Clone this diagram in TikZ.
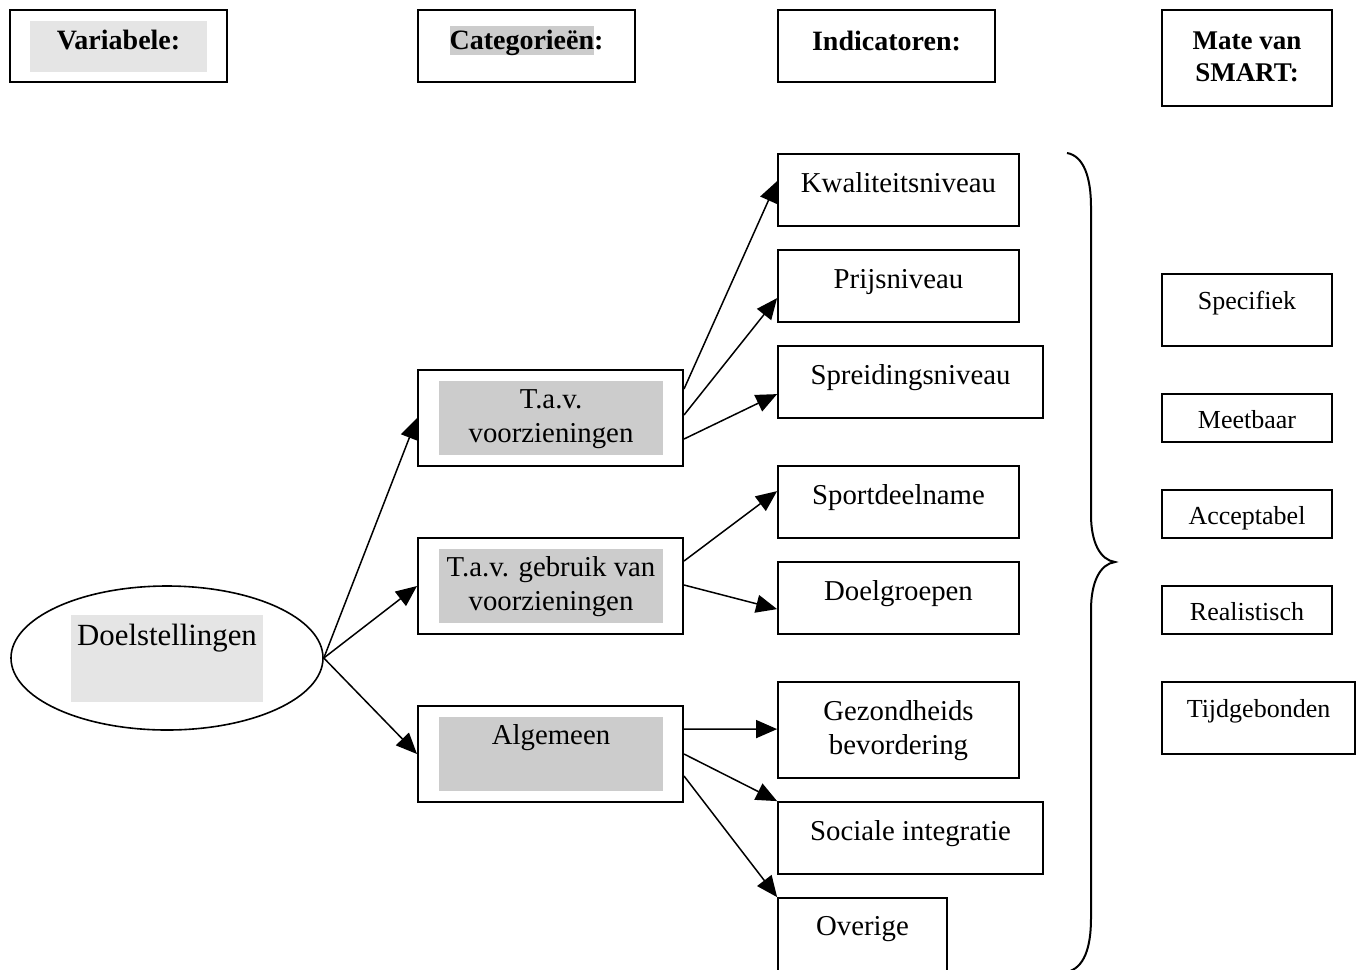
\documentclass[tikz,border=0pt]{standalone}
\usepackage{fontspec}
\setmainfont{Liberation Serif}
\usetikzlibrary{arrows.meta,shapes.geometric,fit,calc}

% grey highlight behind a word, as a text marker would leave it
\newcommand\markword[1]{{\setlength\fboxsep{0pt}\colorbox{black!20}{\rule[-3pt]{0pt}{14.5pt}#1}}}

\begin{document}
\begin{tikzpicture}[x=0.5pt,y=-0.5pt,
  hdr/.style={draw, line width=1.2pt, inner sep=0pt},
  catbox/.style={draw, line width=1pt, inner sep=0pt},
  indbox/.style={draw, line width=0.9pt, inner sep=0pt},
  smartbox/.style={draw, line width=0.9pt, inner sep=0pt},
  hdrtxt/.style={anchor=base, inner sep=0pt, align=center, font=\fontsize{14}{16}\selectfont\bfseries},
  txt/.style={anchor=base, inner sep=0pt, align=center, font=\fontsize{14.4}{17}\selectfont},
  smtxt/.style={anchor=base, inner sep=0pt, font=\fontsize{13}{16}\selectfont},
  arr/.style={-{Triangle[length=10.5pt,width=9pt]}, line width=0.75pt},
]
\path[use as bounding box] (0,0) rectangle (1363,969);
\clip (0,0) rectangle (1363,969);

% ---- column headers ----
\node[hdr, fit={(10,10) (227,82)}] (hvar) {};
\fill[black!10] (30,21) rectangle (207,72);
\node[hdrtxt] (hvar-t) at (118.5,49) {Variabele:};

\node[hdr, fit={(418,10) (635,82)}] (hcat) {};
\node[hdrtxt] (hcat-t) at (526.5,49) {\markword{Categorieën}:};

\node[hdr, fit={(778,10) (995,82)}] (hind) {};
\node[hdrtxt] (hind-t) at (886.5,50) {Indicatoren:};

% multi-line texts are placed by the baseline of their last line
\node[hdr, fit={(1162,10) (1332,106)}] (hsm) {};
\node[hdrtxt, font=\fontsize{13.5}{16}\selectfont\bfseries] (hsm-t) at (1247,81) {Mate van\\SMART:};

% ---- variable ----
\node[ellipse, draw, line width=0.8pt, minimum width=156pt, minimum height=72pt, inner sep=0pt] (doel) at (167,658) {};
\fill[black!10] (71,615) rectangle (263,702);
\node[txt, font=\fontsize{15.4}{18}\selectfont] (doel-t) at (167,645) {Doelstellingen};

% ---- categories ----
\node[catbox, fit={(418,370) (683,466)}] (c1) {};
\fill[black!20] (439,381) rectangle (663,455);
\node[txt] (c1-t) at (551,442) {T.a.v.\\voorzieningen};

\node[catbox, fit={(418,538) (683,634)}] (c2) {};
\fill[black!20] (439,549) rectangle (663,623);
\node[txt] (c2-t) at (551,610) {T.a.v. gebruik van\\voorzieningen};

\node[catbox, fit={(418,706) (683,802)}] (c3) {};
\fill[black!20] (439,717) rectangle (663,791);
\node[txt] (c3-t) at (551,744) {Algemeen};

% ---- indicators ----
\node[indbox, fit={(778,154) (1019,226)}] (kw) {};
\node[txt] (kw-t) at (898.5,192) {Kwaliteitsniveau};
\node[indbox, fit={(778,250) (1019,322)}] (pr) {};
\node[txt] (pr-t) at (898.5,288) {Prijsniveau};
\node[indbox, fit={(778,346) (1043,418)}] (sp) {};
\node[txt] (sp-t) at (910.5,384) {Spreidingsniveau};
\node[indbox, fit={(778,466) (1019,538)}] (sd) {};
\node[txt] (sd-t) at (898.5,504) {Sportdeelname};
\node[indbox, fit={(778,562) (1019,634)}] (dg) {};
\node[txt] (dg-t) at (898.5,600) {Doelgroepen};
\node[indbox, fit={(778,682) (1019,778)}] (gz) {};
\node[txt] (gz-t) at (898.5,754) {Gezondheids\\bevordering};
\node[indbox, fit={(778,802) (1043,874)}] (si) {};
\node[txt] (si-t) at (910.5,840) {Sociale integratie};
\node[indbox, fit={(778,898) (947,995)}] (ov) {};
\node[txt] (ov-t) at (862.5,935) {Overige};

% ---- SMART criteria ----
\node[smartbox, fit={(1162,274) (1332,346)}] (spec) {};
\node[smtxt] (spec-t) at (1247,309) {Specifiek};
\node[smartbox, fit={(1162,394) (1332,442)}] (meet) {};
\node[smtxt] (meet-t) at (1247,428) {Meetbaar};
\node[smartbox, fit={(1162,490) (1332,538)}] (acc) {};
\node[smtxt] (acc-t) at (1247,524) {Acceptabel};
\node[smartbox, fit={(1162,586) (1332,634)}] (real) {};
\node[smtxt] (real-t) at (1247,620) {Realistisch};
\node[smartbox, fit={(1162,682) (1355,754)}] (tijd) {};
\node[smtxt] (tijd-t) at (1258.5,717) {Tijdgebonden};

% ---- connectors ----
\draw[arr] (doel.east) -- (c1.west);
\draw[arr] (doel.east) -- (c2.west);
\draw[arr] (doel.east) -- (c3.west);

\draw[arr] ($(c1.north east)+(0,20)$) -- ($(kw.north west)+(0,28)$);
\draw[arr] ($(c1.north east)+(0,46)$) -- ($(pr.north west)+(0,49)$);
\draw[arr] ($(c1.north east)+(0,70)$) -- ($(sp.north west)+(0,49)$);

\draw[arr] ($(c2.north east)+(0,24)$) -- ($(sd.north west)+(0,26)$);
\draw[arr] ($(c2.north east)+(0,48)$) -- ($(dg.north west)+(0,48)$);

\draw[arr] ($(c3.north east)+(0,24)$) -- ($(gz.north west)+(0,48)$);
\draw[arr] ($(c3.north east)+(0,49)$) -- (si.north west);
\draw[arr] ($(c3.north east)+(0,71)$) -- (ov.north west);

% ---- brace grouping the indicators ----
\draw[line width=1pt]
  (1067,153) .. controls (1084,156) and (1091,178) .. (1091,207)
  -- (1091,515) .. controls (1091,542) and (1100,560) .. (1115,562)
  .. controls (1100,564) and (1091,582) .. (1091,610)
  -- (1091,918) .. controls (1091,948) and (1084,968) .. (1067,972);
\end{tikzpicture}
\end{document}
